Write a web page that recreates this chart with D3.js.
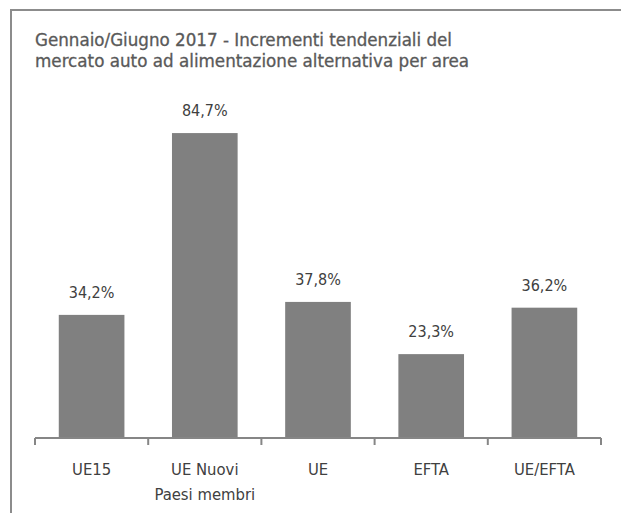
<!DOCTYPE html>
<html>
<head>
<meta charset="utf-8">
<script src="https://cdn.jsdelivr.net/npm/d3@7"></script>
<style>
  body { margin: 0; background: #fff; }
  svg text { font-family: "DejaVu Sans Condensed", "DejaVu Sans", sans-serif; }
</style>
</head>
<body>
<div class="chart"></div>
<script>
const categories = ["UE15", "UE Nuovi\nPaesi membri", "UE", "EFTA", "UE/EFTA"];
const values = [34.2, 84.7, 37.8, 23.3, 36.2];
const titleLines = [
  "Gennaio/Giugno 2017 - Incrementi tendenziali del",
  "mercato auto ad alimentazione alternativa per area"
];

const width = 621;
const height = 513;
const baseline = 438;
const left = 35;
const right = 601;

const svg = d3.select(".chart")
  .append("svg")
  .attr("width", width)
  .attr("height", height);

// frame (top and left only)
svg.append("path")
  .attr("d", "M11," + height + "V10H" + width)
  .attr("fill", "none")
  .attr("stroke", "#8c8c8c")
  .attr("stroke-width", 2);

const titleWidths = [417, 434];
svg.selectAll(".title")
  .data(titleLines)
  .enter()
  .append("text")
  .attr("class", "title")
  .attr("x", 35)
  .attr("y", (d, i) => 46 + i * 21)
  .attr("fill", "#595959")
  .attr("stroke", "#595959")
  .attr("stroke-width", 0.3)
  .attr("font-size", 18)
  .attr("textLength", (d, i) => titleWidths[i])
  .attr("lengthAdjust", "spacingAndGlyphs")
  .text(d => d);

const x = d3.scaleBand()
  .domain(d3.range(categories.length))
  .range([left, right])
  .paddingInner(0.42)
  .paddingOuter(0.21);

const y = d3.scaleLinear().domain([0, 100]).range([baseline, baseline - 360]);

svg.selectAll("rect")
  .data(values)
  .enter()
  .append("rect")
  .attr("x", (d, i) => x(i))
  .attr("y", d => y(d))
  .attr("width", x.bandwidth())
  .attr("height", d => baseline - y(d))
  .attr("fill", "#808080");

svg.selectAll(".val")
  .data(values)
  .enter()
  .append("text")
  .attr("class", "val")
  .attr("x", (d, i) => x(i) + x.bandwidth() / 2)
  .attr("y", d => y(d) - 17)
  .attr("text-anchor", "middle")
  .attr("fill", "#404040")
  .attr("font-size", 16)
  .text(d => d.toFixed(1).replace(".", ",") + "%");

// axis with ticks at band boundaries
const step = (right - left) / categories.length;
const tickPos = d3.range(categories.length + 1).map(i => left + i * step);
svg.append("line")
  .attr("x1", left).attr("x2", right)
  .attr("y1", baseline).attr("y2", baseline)
  .attr("stroke", "#868686").attr("stroke-width", 2);
svg.selectAll(".tick")
  .data(tickPos)
  .enter()
  .append("line")
  .attr("x1", d => d).attr("x2", d => d)
  .attr("y1", baseline).attr("y2", baseline + 7)
  .attr("stroke", "#868686").attr("stroke-width", 2);

const cat = svg.selectAll(".cat")
  .data(categories)
  .enter()
  .append("text")
  .attr("class", "cat")
  .attr("x", (d, i) => x(i) + x.bandwidth() / 2)
  .attr("y", 475)
  .attr("text-anchor", "middle")
  .attr("fill", "#404040")
  .attr("font-size", 16.5);
cat.selectAll("tspan")
  .data(d => d.split("\n"))
  .enter()
  .append("tspan")
  .attr("x", function () { return this.parentNode.getAttribute("x"); })
  .attr("dy", (d, i) => i === 0 ? 0 : 25)
  .text(d => d);
</script>
</body>
</html>
